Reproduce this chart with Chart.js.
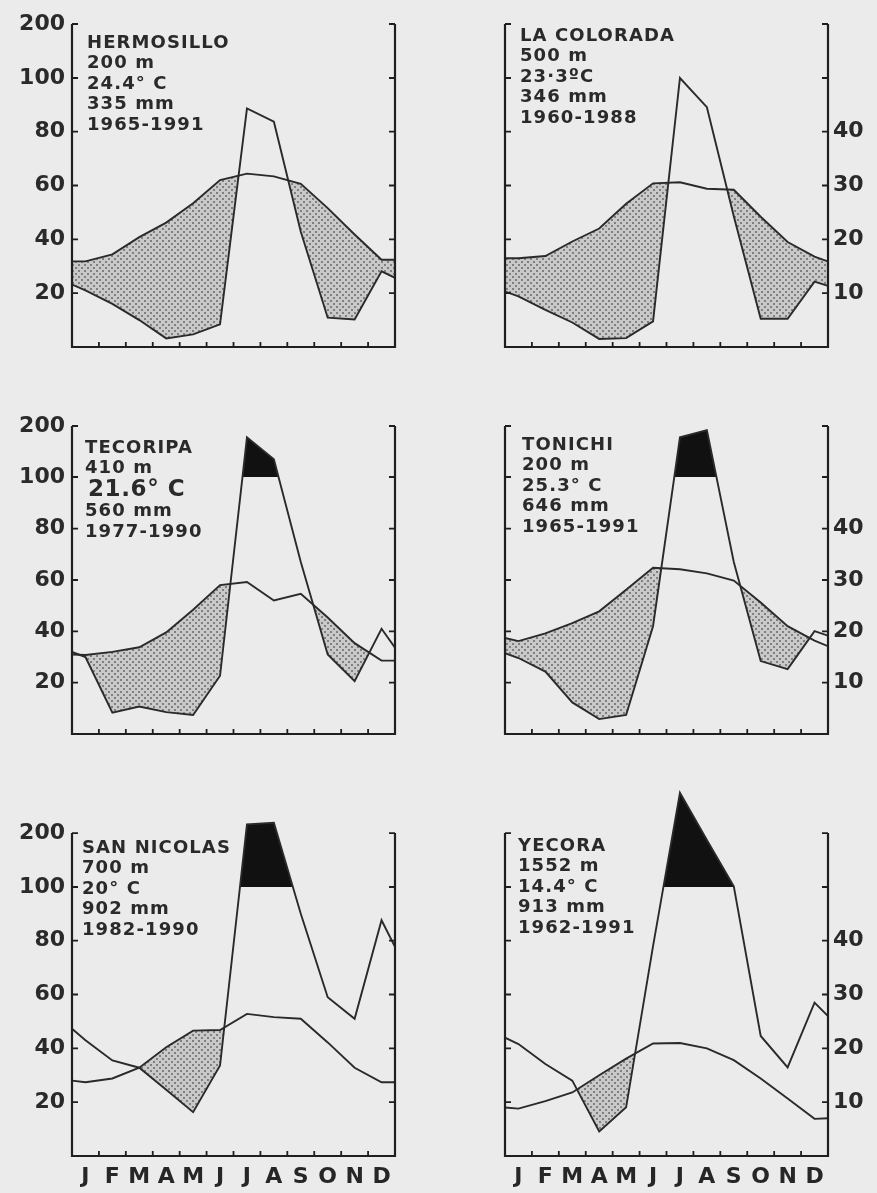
<!DOCTYPE html>
<html>
<head>
<meta charset="utf-8">
<script src="https://cdn.jsdelivr.net/npm/chart.js@4.4.1/dist/chart.umd.min.js"></script>
<style>
html,body{margin:0;padding:0;background:#ebebeb;}
#page{position:relative;width:877px;height:1193px;overflow:hidden;background:#ebebeb;}
canvas{position:absolute;}
.info{position:absolute;font-family:"DejaVu Sans",sans-serif;font-weight:bold;font-size:18px;line-height:20.5px;letter-spacing:1.1px;color:#2a2a2a;white-space:nowrap;}
.big{font-size:23px;letter-spacing:0.6px;padding-left:3px;}
</style>
</head>
<body>
<div id="page">
  <canvas id="c1" width="440" height="385" style="left:0;top:0;width:440px;height:385px"></canvas>
  <canvas id="c2" width="437" height="385" style="left:440px;top:0;width:437px;height:385px"></canvas>
  <canvas id="c3" width="440" height="385" style="left:0;top:385px;width:440px;height:385px"></canvas>
  <canvas id="c4" width="437" height="385" style="left:440px;top:385px;width:437px;height:385px"></canvas>
  <canvas id="c5" width="440" height="423" style="left:0;top:770px;width:440px;height:423px"></canvas>
  <canvas id="c6" width="437" height="423" style="left:440px;top:770px;width:437px;height:423px"></canvas>

  <div class="info" style="left:87px;top:31.6px">HERMOSILLO<br>200 m<br>24.4° C<br>335 mm<br>1965-1991</div>
  <div class="info" style="left:520px;top:24.6px">LA COLORADA<br>500 m<br>23·3ºC<br>346 mm<br>1960-1988</div>
  <div class="info" style="left:85px;top:436.6px">TECORIPA<br>410 m<br><span class="big">21.6° C</span><br>560 mm<br>1977-1990</div>
  <div class="info" style="left:522px;top:433.6px">TONICHI<br>200 m<br>25.3° C<br>646 mm<br>1965-1991</div>
  <div class="info" style="left:82px;top:836.6px">SAN NICOLAS<br>700 m<br>20° C<br>902 mm<br>1982-1990</div>
  <div class="info" style="left:518px;top:834.6px">YECORA<br>1552 m<br>14.4° C<br>913 mm<br>1962-1991</div>
</div>
<script>
// ---------- data ----------
const months = ['J','F','M','A','M','J','J','A','S','O','N','D'];
const precipTicks = [20, 40, 60, 80, 100, 200];   // mm
const tempTicks = [10, 20, 30, 40];               // °C

// monthly precipitation (mm), monthly mean temperature (°C), and the values where the curves meet the year's edges
const hermosilloPrecip = [21, 16, 10, 3.2, 4.7, 8.4, 88.6, 83.7, 42.8, 10.9, 10.2, 28.1];
const hermosilloPrecipEnds = [23.2, 25.7];
const hermosilloTemp = [15.9, 17.2, 20.4, 23.1, 26.7, 31.0, 32.2, 31.7, 30.3, 25.8, 20.9, 16.2];
const hermosilloTempEnds = [15.9, 16.2];

const coloradaPrecip = [18.8, 13.8, 9.1, 3, 3.3, 9.5, 100, 89.1, 48.6, 10.5, 10.5, 24.3];
const coloradaPrecipEnds = [20.6, 22.7];
const coloradaTemp = [16.5, 16.9, 19.6, 22.0, 26.6, 30.4, 30.6, 29.4, 29.2, 24.2, 19.5, 16.8];
const coloradaTempEnds = [16.5, 15.9];

const tecoripaPrecip = [30, 8.3, 10.7, 8.5, 7.4, 22.7, 178, 135, 67, 31, 20.6, 41];
const tecoripaPrecipEnds = [32, 33.6];
const tecoripaTemp = [15.4, 16.0, 16.9, 19.8, 24.2, 29.0, 29.6, 26.0, 27.3, 22.7, 17.7, 14.3];
const tecoripaTempEnds = [15.5, 14.3];

const tonichiPrecip = [29.6, 24.3, 12.3, 5.8, 7.4, 42, 178, 192, 67, 28.4, 25.3, 40.1];
const tonichiPrecipEnds = [31.5, 38.3];
const tonichiTemp = [18.1, 19.6, 21.6, 23.9, 28.1, 32.4, 32.1, 31.3, 29.9, 25.6, 21.0, 18.2];
const tonichiTempEnds = [18.7, 17.1];

const sanNicolasPrecip = [43, 35.5, 32.8, 24.6, 16.3, 33.6, 216, 219, 90, 59, 51, 87.6];
const sanNicolasPrecipEnds = [47.3, 77.7];
const sanNicolasTemp = [13.7, 14.4, 16.4, 20.2, 23.3, 23.4, 26.4, 25.8, 25.5, 21.1, 16.4, 13.7];
const sanNicolasTempEnds = [14.0, 13.7];

const yecoraPrecip = [41.6, 34.2, 28, 9.1, 18.1, 78, 275, 187, 101, 44.6, 32.9, 57];
const yecoraPrecipEnds = [44, 52];
const yecoraTemp = [8.8, 10.2, 11.8, 15.0, 18.1, 20.9, 21.0, 20.0, 17.8, 14.4, 10.7, 6.9];
const yecoraTempEnds = [9.0, 7.0];

// ---------- Walter-Lieth precipitation scale: linear to 100 mm, compressed 1:5 above ----------
class WalterScale extends Chart.LinearScale {
  static id = 'walter';
  static defaults = { ticks: { callback: (v) => String(v) } };
  _d(v) { return v <= 100 ? v : 100 + (v - 100) / 5; }
  getPixelForValue(value) {
    const px = this.getPixelForDecimal(this._d(value) / this._d(this.max));
    // snap the 100 mm boundary to a whole pixel so the fill edge is crisp
    return value === 100 ? Math.round(px) : px;
  }
  getValueForPixel(pixel) {
    const d = this.getDecimalForPixel(pixel) * this._d(this.max);
    return d <= 100 ? d : 100 + (d - 100) * 5;
  }
}
Chart.register(WalterScale);

Chart.defaults.font.family = '"DejaVu Sans", sans-serif';
Chart.defaults.color = '#262626';

function dotPattern() {
  const c = document.createElement('canvas');
  c.width = 6; c.height = 6;
  const g = c.getContext('2d');
  g.fillStyle = '#c9c9c9'; g.fillRect(0, 0, 6, 6);
  g.fillStyle = '#808080'; g.fillRect(0, 0, 2, 2); g.fillRect(3, 3, 2, 2);
  return g.createPattern(c, 'repeat');
}
const pattern = dotPattern();

function series(monthly, ends) {
  return [{x: 0, y: ends[0]}, ...monthly.map((v, i) => ({x: i + 0.5, y: v})), {x: 12, y: ends[1]}];
}

const framePlugin = {
  id: 'walterFrame',
  afterDatasetsDraw(chart) {
    const {ctx, chartArea: a, scales: {x, y}} = chart;
    const y0 = y.getPixelForValue(0), yTop = y.getPixelForValue(200);
    ctx.save();
    ctx.strokeStyle = '#1f1f1f';
    ctx.lineWidth = 2.2;
    ctx.lineJoin = 'miter';
    ctx.beginPath();
    ctx.moveTo(a.left, yTop); ctx.lineTo(a.left, y0); ctx.lineTo(a.right, y0); ctx.lineTo(a.right, yTop);
    ctx.stroke();
    ctx.lineWidth = 1.8;
    ctx.beginPath();
    precipTicks.forEach(v => {
      const py = y.getPixelForValue(v);
      ctx.moveTo(a.left, py); ctx.lineTo(a.left + 6, py);
      ctx.moveTo(a.right, py); ctx.lineTo(a.right - 6, py);
    });
    for (let i = 1; i < 12; i++) {
      const px = x.getPixelForValue(i);
      ctx.moveTo(px, y0); ctx.lineTo(px, y0 - 5);
    }
    ctx.stroke();
    ctx.restore();
  }
};

const panels = [
  {id: 'c1', p: hermosilloPrecip, pe: hermosilloPrecipEnds, t: hermosilloTemp, te: hermosilloTempEnds, left: true, right: false, mon: false, pMax: 200, tMax: 60, leftW: 72, rightW: 45, padTop: 24, bottomH: 38},
  {id: 'c2', p: coloradaPrecip, pe: coloradaPrecipEnds, t: coloradaTemp, te: coloradaTempEnds, left: false, right: true, mon: false, pMax: 200, tMax: 60, leftW: 65, rightW: 49, padTop: 24, bottomH: 38},
  {id: 'c3', p: tecoripaPrecip, pe: tecoripaPrecipEnds, t: tecoripaTemp, te: tecoripaTempEnds, left: true, right: false, mon: false, pMax: 200, tMax: 60, leftW: 72, rightW: 45, padTop: 41, bottomH: 36},
  {id: 'c4', p: tonichiPrecip, pe: tonichiPrecipEnds, t: tonichiTemp, te: tonichiTempEnds, left: false, right: true, mon: false, pMax: 200, tMax: 60, leftW: 65, rightW: 49, padTop: 41, bottomH: 36},
  {id: 'c5', p: sanNicolasPrecip, pe: sanNicolasPrecipEnds, t: sanNicolasTemp, te: sanNicolasTempEnds, left: true, right: false, mon: true, pMax: 300, tMax: 70, leftW: 72, rightW: 45, padTop: 9.2, bottomH: 37},
  {id: 'c6', p: yecoraPrecip, pe: yecoraPrecipEnds, t: yecoraTemp, te: yecoraTempEnds, left: false, right: true, mon: true, pMax: 300, tMax: 70, leftW: 65, rightW: 49, padTop: 9.2, bottomH: 37}
];

panels.forEach(cfg => {
  new Chart(document.getElementById(cfg.id), {
    type: 'line',
    data: {
      datasets: [
        {
          label: 'Precipitación', data: series(cfg.p, cfg.pe), yAxisID: 'y',
          borderColor: '#2a2a2a', borderWidth: 1.9, pointRadius: 0, tension: 0,
          fill: {target: {value: 100}, above: '#111111', below: 'rgba(0,0,0,0)'}
        },
        {
          label: 'Temperatura', data: series(cfg.t, cfg.te), yAxisID: 'yT',
          borderColor: '#2a2a2a', borderWidth: 1.9, pointRadius: 0, tension: 0,
          fill: {target: 0, above: pattern, below: 'rgba(0,0,0,0)'}
        }
      ]
    },
    options: {
      responsive: false, maintainAspectRatio: false, animation: false, events: [],
      layout: {padding: {top: cfg.padTop, left: 0, right: 0, bottom: 0}},
      plugins: {legend: {display: false}, tooltip: {enabled: false}, title: {display: false}},
      scales: {
        x: {
          type: 'linear', min: 0, max: 12,
          grid: {display: false, drawTicks: false}, border: {display: false},
          afterBuildTicks: s => { s.ticks = months.map((m, i) => ({value: i + 0.5})); },
          afterFit: s => { s.height = cfg.bottomH; s.paddingLeft = 0; s.paddingRight = 0; },
          ticks: {
            display: cfg.mon, autoSkip: false, maxRotation: 0, minRotation: 0, padding: 8,
            font: {size: 22, weight: 'bold'}, color: '#262626',
            callback: (v, i) => months[i]
          }
        },
        y: {
          type: 'walter', position: 'left', min: 0, max: cfg.pMax,
          grid: {display: false, drawTicks: false}, border: {display: false},
          afterBuildTicks: s => { s.ticks = precipTicks.map(v => ({value: v})); },
          afterFit: s => { s.width = cfg.leftW; s.paddingTop = 0; s.paddingBottom = 0; },
          ticks: {display: cfg.left, padding: 7, font: {size: 22, weight: 'bold'}, color: '#2a2a2a', callback: v => String(v)}
        },
        yT: {
          type: 'linear', position: 'right', min: 0, max: cfg.tMax,
          grid: {display: false, drawTicks: false}, border: {display: false},
          afterBuildTicks: s => { s.ticks = tempTicks.map(v => ({value: v})); },
          afterFit: s => { s.width = cfg.rightW; s.paddingTop = 0; s.paddingBottom = 0; },
          ticks: {display: cfg.right, padding: 5, font: {size: 22, weight: 'bold'}, color: '#2a2a2a', callback: v => String(v)}
        }
      }
    },
    plugins: [framePlugin]
  });
});
</script>
</body>
</html>
